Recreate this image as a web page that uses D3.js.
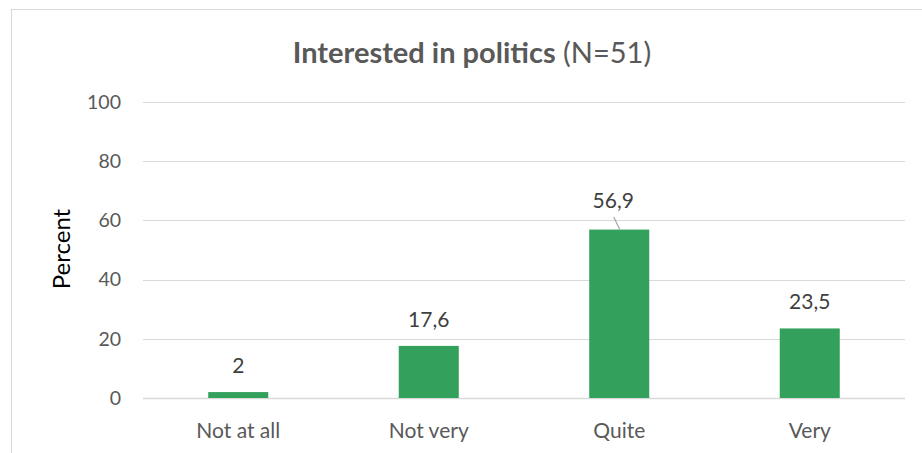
<!DOCTYPE html>
<html>
<head>
<meta charset="utf-8">
<script src="https://cdn.jsdelivr.net/npm/d3@7"></script>
<style>
html,body{margin:0;padding:0;background:#fff;}
svg{display:block;font-family:Lato,"Open Sans",sans-serif;}
</style>
</head>
<body>
<svg id="chart" width="922" height="453"></svg>
<script>
const categories = ["Not at all", "Not very", "Quite", "Very"];
const values = [2, 17.6, 56.9, 23.5];
const valueLabels = ["2", "17,6", "56,9", "23,5"];
const yTicks = [0, 20, 40, 60, 80, 100];
const titleBold = "Interested in politics";
const titleNormal = " (N=51)";
const yTitle = "Percent";

const svg = d3.select("#chart");
const W = 922, H = 453;
const m = {left: 143, right: 17, top: 102, bottom: 55};

// outer chart border
svg.append("rect").attr("x", 11.5).attr("y", 9.5).attr("width", 930).attr("height", 460)
  .attr("fill", "none").attr("stroke", "#d9d9d9").attr("stroke-width", 1);

const x = d3.scaleBand().domain(categories).range([m.left, W - m.right]).paddingInner(0.685).paddingOuter(0.3425);
const y = d3.scaleLinear().domain([0, 100]).range([H - m.bottom, m.top]);

// gridlines
svg.append("g").selectAll("line").data(yTicks).join("line")
  .attr("x1", m.left).attr("x2", W - m.right)
  .attr("y1", d => Math.round(y(d)) + 0.5).attr("y2", d => Math.round(y(d)) + 0.5)
  .attr("stroke", "#d9d9d9").attr("stroke-width", d => d === 0 ? 1.5 : 1);

// y axis labels
const yAxis = d3.axisLeft(y).tickValues(yTicks).tickSize(0).tickPadding(0);
const gy = svg.append("g").attr("transform", `translate(${m.left - 22},0)`).call(yAxis);
gy.select(".domain").remove();
gy.selectAll("text").attr("font-size", 19.5).attr("fill", "#595959").attr("font-family", "Lato, sans-serif");

// x axis labels
const xAxis = d3.axisBottom(x).tickSize(0).tickPadding(0);
const gx = svg.append("g").attr("transform", `translate(0,${H - m.bottom})`).call(xAxis);
gx.select(".domain").remove();
gx.selectAll("text").attr("font-size", 21).attr("fill", "#595959").attr("dy", 0).attr("y", 40)
  .attr("font-family", "Lato, sans-serif");

// bars
svg.append("g").selectAll("rect").data(values).join("rect")
  .attr("x", (d, i) => x(categories[i]))
  .attr("width", x.bandwidth())
  .attr("y", d => y(d))
  .attr("height", d => y(0) - y(d))
  .attr("fill", "#33a05b");

// data labels
const labelOffsets = [19, 19, 22, 19];
svg.append("g").selectAll("text").data(values).join("text")
  .attr("x", (d, i) => x(categories[i]) + x.bandwidth() / 2 - (i === 2 ? 6 : 0))
  .attr("y", (d, i) => y(d) - labelOffsets[i])
  .attr("text-anchor", "middle")
  .attr("font-size", 21).attr("fill", "#404040")
  .text((d, i) => valueLabels[i]);

// leader line for the moved label
const qi = 2;
svg.append("line")
  .attr("x1", x(categories[qi]) + x.bandwidth() / 2 - 5.5)
  .attr("y1", y(values[qi]) - 12.5)
  .attr("x2", x(categories[qi]) + x.bandwidth() / 2 + 0.5)
  .attr("y2", y(values[qi]))
  .attr("stroke", "#a6a6a6").attr("stroke-width", 1.2);

// title
const t = svg.append("text").attr("x", 472).attr("y", 63).attr("text-anchor", "middle")
  .attr("font-size", 29).attr("fill", "#595959");
t.append("tspan").attr("font-weight", "bold").text(titleBold);
t.append("tspan").text(titleNormal);

// y title
svg.append("text").attr("transform", "translate(70,249) rotate(-90)")
  .attr("text-anchor", "middle").attr("font-size", 24).attr("fill", "#000")
  .text(yTitle);
</script>
</body>
</html>
